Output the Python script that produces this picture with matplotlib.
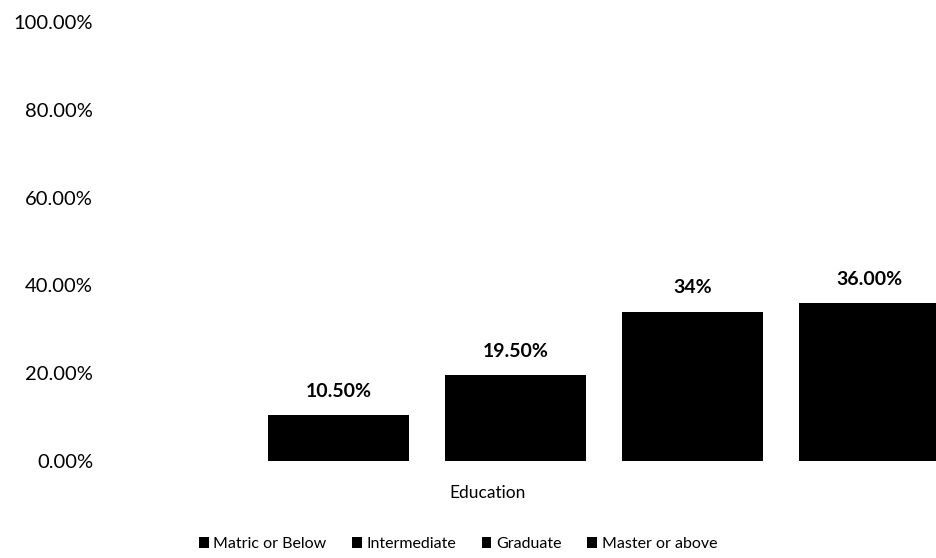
import matplotlib.pyplot as plt
from matplotlib.ticker import FuncFormatter

plt.rcParams['font.family'] = ['Lato', 'DejaVu Sans']

categories = ['Matric or Below', 'Intermediate', 'Graduate', 'Master or above']
shares = [10.5, 19.5, 34.0, 36.0]
bar_labels = ['10.50%', '19.50%', '34%', '36.00%']
yticks = [0, 20, 40, 60, 80, 100]

fig = plt.figure(figsize=(9.36, 5.58), dpi=100)
# axes runs past the right edge so the last bar is cut off
ax = fig.add_axes([250 / 936, 97 / 558, 708 / 936, 439 / 558])

bars = ax.bar(range(len(categories)), shares, width=0.8, color='black',
              label=categories)
for b, txt in zip(bars, bar_labels):
    ax.annotate(txt, (b.get_x() + b.get_width() / 2, b.get_height()),
                xytext=(0, 11), textcoords='offset points',
                ha='center', va='bottom', fontsize=14, fontweight='bold')

ax.set_xlim(-0.5, 3.5)
ax.set_ylim(0, 100)
ax.set_yticks(yticks)
ax.yaxis.set_major_formatter(FuncFormatter(lambda v, p: f'{v:.2f}%'))
ax.tick_params(axis='y', length=0, pad=113, labelsize=14.5)
ax.set_xticks([])
for s in ax.spines.values():
    s.set_visible(False)

fig.text(488 / 936, 1 - 493 / 558, 'Education', ha='center', va='center',
         fontsize=12.5)

fig.legend(handles=bars.patches, labels=categories, ncol=4, frameon=False,
           loc='center', bbox_to_anchor=(458 / 936, 14 / 558),
           fontsize=11.5, handlelength=0.6, handleheight=0.7,
           handletextpad=0.3, columnspacing=1.6)

fig.savefig('out.png', dpi=100)
